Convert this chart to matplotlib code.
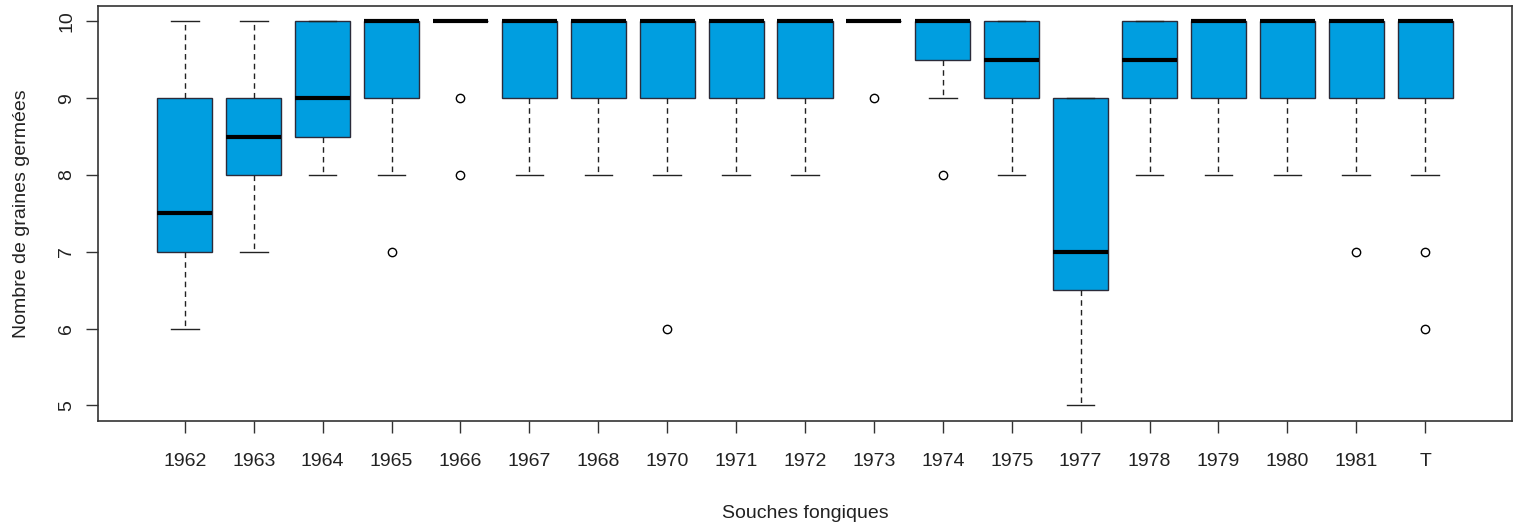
import matplotlib
matplotlib.use("agg")
from matplotlib import pyplot as plt

# box statistics
labels = ["1962", "1963", "1964", "1965", "1966", "1967", "1968", "1970", "1971",
          "1972", "1973", "1974", "1975", "1977", "1978", "1979", "1980", "1981", "T"]
whislo = [6, 7, 8, 8, 10, 8, 8, 8, 8, 8, 10, 9, 8, 5, 8, 8, 8, 8, 8]
q1 = [7, 8, 8.5, 9, 10, 9, 9, 9, 9, 9, 10, 9.5, 9, 6.5, 9, 9, 9, 9, 9]
med = [7.5, 8.5, 9, 10, 10, 10, 10, 10, 10, 10, 10, 10, 9.5, 7, 9.5, 10, 10, 10, 10]
q3 = [9, 9, 10, 10, 10, 10, 10, 10, 10, 10, 10, 10, 10, 9, 10, 10, 10, 10, 10]
whishi = [10, 10, 10, 10, 10, 10, 10, 10, 10, 10, 10, 10, 10, 9, 10, 10, 10, 10, 10]
fliers = [[], [], [], [7], [9, 8], [], [], [6], [], [], [9], [8], [], [], [], [], [], [7], [7, 6]]

plt.rcParams["font.family"] = ["Liberation Sans", "DejaVu Sans"]

stats = []
for i in range(len(labels)):
    stats.append(dict(label=labels[i], whislo=whislo[i], q1=q1[i], med=med[i],
                      q3=q3[i], whishi=whishi[i], fliers=fliers[i]))

fig = plt.figure(figsize=(15.2, 5.26), dpi=100)
ax = fig.add_axes([0.0645, 0.2002, 0.9302, 0.7884])

pos = list(range(1, len(labels) + 1))
ax.bxp(stats, positions=pos, widths=0.8, capwidths=0.4, patch_artist=True,
       boxprops=dict(facecolor="#009EE0", edgecolor="#2b2b3a", linewidth=1),
       medianprops=dict(color="black", linewidth=3, solid_capstyle="butt"),
       whiskerprops=dict(color="#222222", linewidth=1, linestyle=(0, (4, 3))),
       capprops=dict(color="#222222", linewidth=1),
       flierprops=dict(marker="o", markerfacecolor="white", markeredgecolor="black",
                       markersize=6, markeredgewidth=1))

n = len(labels)
ax.set_xlim(0.5 - 0.04 * n, n + 0.5 + 0.04 * n)
ax.set_ylim(4.8, 10.2)
ax.set_xticks(pos)
ax.set_xticklabels(labels)
ax.set_yticks([5, 6, 7, 8, 9, 10])
ax.set_yticklabels(["5", "6", "7", "8", "9", "10"], rotation=90, va="center")

for s in ax.spines.values():
    s.set_color("#333333")
    s.set_linewidth(1.2)
ax.tick_params(axis="both", length=8.5, width=1, color="#333333", labelsize=14,
               labelcolor="#222222")
ax.tick_params(axis="x", pad=15)
ax.tick_params(axis="y", pad=8)

ax.set_xlabel("Souches fongiques", fontsize=14, color="#222222", labelpad=25)
ax.set_ylabel("Nombre de graines germées", fontsize=14, color="#222222", labelpad=20)

fig.savefig("out.png")
plt.close()
